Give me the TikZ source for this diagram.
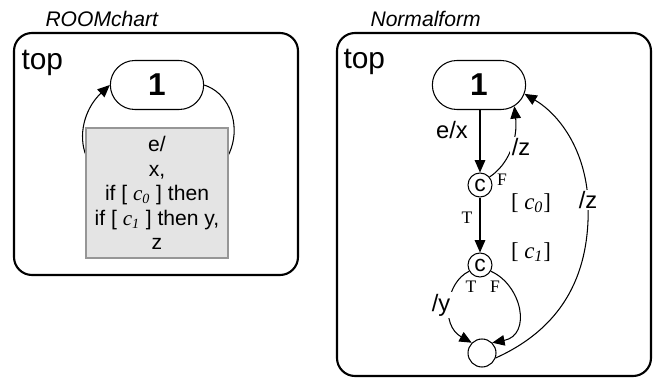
\documentclass[tikz,border=0pt]{standalone}
\usepackage{fontspec}
\setmainfont{Liberation Sans}
\newfontfamily\tms{Liberation Serif}
\usetikzlibrary{arrows.meta,shapes.misc}
\definecolor{grisfond}{RGB}{228,228,228}
\definecolor{grisbord}{RGB}{150,150,150}
% condition variable, Times italic with italic index
\newcommand{\cvar}[1]{{\tms\itshape c}\textsubscript{\tms\itshape #1}}

\begin{document}
\begin{tikzpicture}[x=0.02cm, y=-0.02cm, line width=0.6pt]
\tikzset{rahmen/.style={draw, line width=1.2pt, rounded corners=0.36cm},
  titre/.style={anchor=base west, inner sep=0pt, font=\fontsize{12}{14}\selectfont\itshape},
  haut/.style={anchor=base west, inner sep=0pt, font=\fontsize{17}{19}\selectfont},
  etat/.style={draw, rounded rectangle, minimum width=2.1cm, minimum height=0.98cm, font=\fontsize{18}{20}\selectfont\bfseries},
  choix/.style={draw, circle, minimum size=0.48cm, inner sep=0pt, font=\fontsize{13}{14}\selectfont},
  fin/.style={draw, circle, minimum size=0.56cm, inner sep=0pt},
  boite/.style={draw=grisbord, fill=grisfond, minimum width=2.84cm, minimum height=2.6cm, align=center, font=\fontsize{12}{13.9}\selectfont},
  pfeil/.style={-{Triangle[length=7pt,width=6pt]}},
  lbl/.style={fill=white, inner sep=1pt, font=\fontsize{13.5}{15}\selectfont},
  tf/.style={inner sep=1pt, font=\tms\fontsize{10}{11}\selectfont},
  cond/.style={inner sep=1pt, font=\tms\fontsize{13}{14}\selectfont}}
\useasboundingbox (0,0) rectangle (653,378);

% ROOMchart
\node[titre] at (45,27) {ROOMchart};
\draw[rahmen] (14,33) rectangle (298,275);
\node[haut] at (21,70) {top};
\node[etat] (A1) at (157,85) {1};
\draw[pfeil] (A1.east) .. controls (250,100) and (250,190) .. (157,192)
  .. controls (68,190) and (72,120) .. (A1.west);
\node[boite] (act) at (157,193) {e/\\x,\\if [ \cvar{0} ] then\\if [ \cvar{1} ] then y,\\z};

% Normalform
\node[titre] at (370,27) {Normalform};
\draw[rahmen] (337,33) rectangle (651,376);
\node[haut] at (343,69) {top};
\node[etat] (B1) at (479,85) {1};
\node[choix] (C0) at (480,185) {c};
\node[choix] (C1) at (480,265) {c};
\node[fin] (E) at (482,353) {};
\draw[pfeil] (B1.south -| C0) -- (C0);
\node[lbl] at (452,130) {e/x};
\draw[pfeil] (C0) -- (C1);
\node[tf] at (467,218) {T};
\node[tf] at (502,180) {F};
\draw[pfeil] (C0.40) .. controls (508,165) and (518,140) .. (B1.-31);
\node[lbl] at (521,147) {/z};
\node[cond] at (531,203) {[ \cvar{0}]};
\node[cond] at (531,252) {[ \cvar{1}]};
\draw[pfeil] (C1.210) .. controls (446,282) and (440,325) .. (E.135);
\node[lbl] at (441,305) {/y};
\node[tf] at (471,287) {T};
\node[tf] at (495,287) {F};
\draw[pfeil] (C1.-30) .. controls (522,285) and (532,335) .. (E.45);
\draw[pfeil] (E.-20) .. controls (580,320) and (590,250) .. (588,200)
  .. controls (585,150) and (560,115) .. (B1.-11);
\node[lbl] at (588,200) {/z};
\end{tikzpicture}
\end{document}
